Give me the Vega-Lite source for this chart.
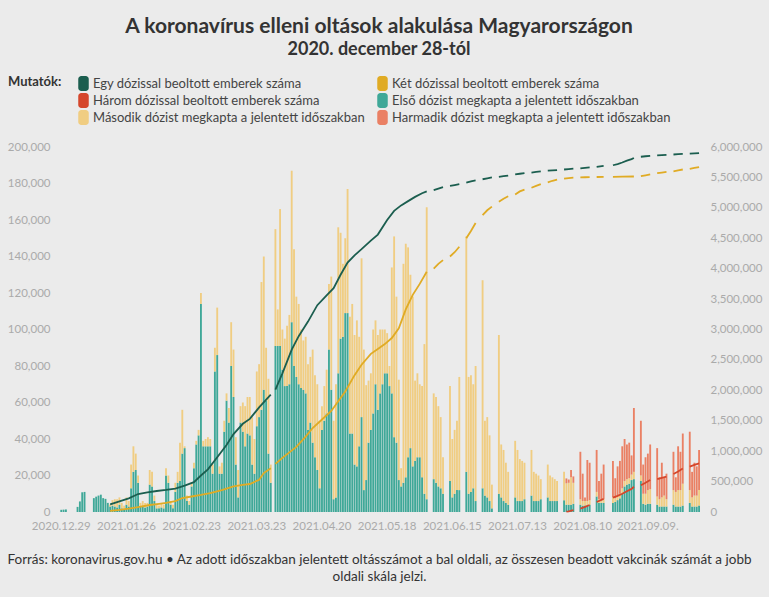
{
  "$schema": "https://vega.github.io/schema/vega-lite/v6.json",
  "width": 642,
  "height": 365,
  "autosize": {"type": "none"},
  "padding": {"left": 58, "top": 147, "right": 69, "bottom": 85},
  "background": "#ebebeb",
  "config": {
    "view": {"stroke": null},
    "font": "Lato",
    "legend": {"gridAlign": "none"}
  },
  "title": {
    "text": "A koronavírus elleni oltások alakulása Magyarországon",
    "subtitle": "2020. december 28-tól",
    "anchor": "middle",
    "font": "Lato",
    "fontSize": 21,
    "fontWeight": "bold",
    "color": "#333333",
    "subtitleFont": "Lato",
    "subtitleFontSize": 18,
    "subtitleFontWeight": "bold",
    "subtitleColor": "#333333",
    "subtitlePadding": 4,
    "offset": 17
  },
  "datasets": {
    "daily": [
      {"d":"2020.12.28","f":0,"s":0,"t":0},
      {"d":"2020.12.29","f":1200,"s":0,"t":0},
      {"d":"2020.12.30","f":1300,"s":0,"t":0},
      {"d":"2020.12.31","f":1400,"s":0,"t":0},
      {"d":"2021.01.01","f":0,"s":0,"t":0},
      {"d":"2021.01.02","f":0,"s":0,"t":0},
      {"d":"2021.01.03","f":0,"s":0,"t":0},
      {"d":"2021.01.04","f":0,"s":0,"t":0},
      {"d":"2021.01.05","f":2800,"s":0,"t":0},
      {"d":"2021.01.06","f":5800,"s":0,"t":0},
      {"d":"2021.01.07","f":10800,"s":0,"t":0},
      {"d":"2021.01.08","f":11000,"s":0,"t":0},
      {"d":"2021.01.09","f":0,"s":0,"t":0},
      {"d":"2021.01.10","f":0,"s":0,"t":0},
      {"d":"2021.01.11","f":0,"s":0,"t":0},
      {"d":"2021.01.12","f":7600,"s":0,"t":0},
      {"d":"2021.01.13","f":8400,"s":0,"t":0},
      {"d":"2021.01.14","f":9000,"s":0,"t":0},
      {"d":"2021.01.15","f":9500,"s":0,"t":0},
      {"d":"2021.01.16","f":7600,"s":0,"t":0},
      {"d":"2021.01.17","f":7200,"s":0,"t":0},
      {"d":"2021.01.18","f":5000,"s":0,"t":0},
      {"d":"2021.01.19","f":3000,"s":1000,"t":0},
      {"d":"2021.01.20","f":3500,"s":3000,"t":0},
      {"d":"2021.01.21","f":3000,"s":4000,"t":0},
      {"d":"2021.01.22","f":2500,"s":4500,"t":0},
      {"d":"2021.01.23","f":4000,"s":4000,"t":0},
      {"d":"2021.01.24","f":2000,"s":3000,"t":0},
      {"d":"2021.01.25","f":1500,"s":2000,"t":0},
      {"d":"2021.01.26","f":4000,"s":4000,"t":0},
      {"d":"2021.01.27","f":3000,"s":3000,"t":0},
      {"d":"2021.01.28","f":13000,"s":13000,"t":0},
      {"d":"2021.01.29","f":22000,"s":14000,"t":0},
      {"d":"2021.01.30","f":23000,"s":9000,"t":0},
      {"d":"2021.01.31","f":16000,"s":4000,"t":0},
      {"d":"2021.02.01","f":3000,"s":2000,"t":0},
      {"d":"2021.02.02","f":3000,"s":3000,"t":0},
      {"d":"2021.02.03","f":2500,"s":2500,"t":0},
      {"d":"2021.02.04","f":3000,"s":2000,"t":0},
      {"d":"2021.02.05","f":15000,"s":8000,"t":0},
      {"d":"2021.02.06","f":14000,"s":8000,"t":0},
      {"d":"2021.02.07","f":6000,"s":3000,"t":0},
      {"d":"2021.02.08","f":2000,"s":2000,"t":0},
      {"d":"2021.02.09","f":2000,"s":1500,"t":0},
      {"d":"2021.02.10","f":2500,"s":2000,"t":0},
      {"d":"2021.02.11","f":2000,"s":2000,"t":0},
      {"d":"2021.02.12","f":20000,"s":4000,"t":0},
      {"d":"2021.02.13","f":16000,"s":4000,"t":0},
      {"d":"2021.02.14","f":4000,"s":2000,"t":0},
      {"d":"2021.02.15","f":2000,"s":2000,"t":0},
      {"d":"2021.02.16","f":11000,"s":5000,"t":0},
      {"d":"2021.02.17","f":16000,"s":6000,"t":0},
      {"d":"2021.02.18","f":17000,"s":21000,"t":0},
      {"d":"2021.02.19","f":32000,"s":24000,"t":0},
      {"d":"2021.02.20","f":35000,"s":1000,"t":0},
      {"d":"2021.02.21","f":6000,"s":3000,"t":0},
      {"d":"2021.02.22","f":4000,"s":2000,"t":0},
      {"d":"2021.02.23","f":14000,"s":2000,"t":0},
      {"d":"2021.02.24","f":24000,"s":3000,"t":0},
      {"d":"2021.02.25","f":37000,"s":2000,"t":0},
      {"d":"2021.02.26","f":42000,"s":3000,"t":0},
      {"d":"2021.02.27","f":114000,"s":6000,"t":0},
      {"d":"2021.02.28","f":36000,"s":3000,"t":0},
      {"d":"2021.03.01","f":36000,"s":4000,"t":0},
      {"d":"2021.03.02","f":36000,"s":5000,"t":0},
      {"d":"2021.03.03","f":36000,"s":4000,"t":0},
      {"d":"2021.03.04","f":21000,"s":5000,"t":0},
      {"d":"2021.03.05","f":77000,"s":13000,"t":0},
      {"d":"2021.03.06","f":86000,"s":26000,"t":0},
      {"d":"2021.03.07","f":21000,"s":4000,"t":0},
      {"d":"2021.03.08","f":21000,"s":6000,"t":0},
      {"d":"2021.03.09","f":44000,"s":6000,"t":0},
      {"d":"2021.03.10","f":61000,"s":4000,"t":0},
      {"d":"2021.03.11","f":49000,"s":8000,"t":0},
      {"d":"2021.03.12","f":80000,"s":24000,"t":0},
      {"d":"2021.03.13","f":63000,"s":26000,"t":0},
      {"d":"2021.03.14","f":26000,"s":15000,"t":0},
      {"d":"2021.03.15","f":8000,"s":15000,"t":0},
      {"d":"2021.03.16","f":49000,"s":9000,"t":0},
      {"d":"2021.03.17","f":44000,"s":16000,"t":0},
      {"d":"2021.03.18","f":36000,"s":22000,"t":0},
      {"d":"2021.03.19","f":43000,"s":20000,"t":0},
      {"d":"2021.03.20","f":42000,"s":21000,"t":0},
      {"d":"2021.03.21","f":26000,"s":26000,"t":0},
      {"d":"2021.03.22","f":21000,"s":19000,"t":0},
      {"d":"2021.03.23","f":47000,"s":30000,"t":0},
      {"d":"2021.03.24","f":52000,"s":29000,"t":0},
      {"d":"2021.03.25","f":56000,"s":70000,"t":0},
      {"d":"2021.03.26","f":67000,"s":73000,"t":0},
      {"d":"2021.03.27","f":61000,"s":29000,"t":0},
      {"d":"2021.03.28","f":32000,"s":41000,"t":0},
      {"d":"2021.03.29","f":16000,"s":10000,"t":0},
      {"d":"2021.03.30","f":0,"s":0,"t":0},
      {"d":"2021.03.31","f":91000,"s":64000,"t":0},
      {"d":"2021.04.01","f":91000,"s":20000,"t":0},
      {"d":"2021.04.02","f":91000,"s":75000,"t":0},
      {"d":"2021.04.03","f":78000,"s":22000,"t":0},
      {"d":"2021.04.04","f":69000,"s":26000,"t":0},
      {"d":"2021.04.05","f":69000,"s":33000,"t":0},
      {"d":"2021.04.06","f":70000,"s":38000,"t":0},
      {"d":"2021.04.07","f":104000,"s":83000,"t":0},
      {"d":"2021.04.08","f":80000,"s":64000,"t":0},
      {"d":"2021.04.09","f":74000,"s":44000,"t":0},
      {"d":"2021.04.10","f":70000,"s":44000,"t":0},
      {"d":"2021.04.11","f":68000,"s":32000,"t":0},
      {"d":"2021.04.12","f":67000,"s":27000,"t":0},
      {"d":"2021.04.13","f":65000,"s":31000,"t":0},
      {"d":"2021.04.14","f":45000,"s":36000,"t":0},
      {"d":"2021.04.15","f":49000,"s":36000,"t":0},
      {"d":"2021.04.16","f":38000,"s":51000,"t":0},
      {"d":"2021.04.17","f":30000,"s":45000,"t":0},
      {"d":"2021.04.18","f":23000,"s":47000,"t":0},
      {"d":"2021.04.19","f":13000,"s":37000,"t":0},
      {"d":"2021.04.20","f":45000,"s":13000,"t":0},
      {"d":"2021.04.21","f":50000,"s":19000,"t":0},
      {"d":"2021.04.22","f":54000,"s":24000,"t":0},
      {"d":"2021.04.23","f":89000,"s":36000,"t":0},
      {"d":"2021.04.24","f":67000,"s":62000,"t":0},
      {"d":"2021.04.25","f":7000,"s":43000,"t":0},
      {"d":"2021.04.26","f":8000,"s":62000,"t":0},
      {"d":"2021.04.27","f":76000,"s":80000,"t":0},
      {"d":"2021.04.28","f":95000,"s":58000,"t":0},
      {"d":"2021.04.29","f":96000,"s":40000,"t":0},
      {"d":"2021.04.30","f":109000,"s":41000,"t":0},
      {"d":"2021.05.01","f":109000,"s":68000,"t":0},
      {"d":"2021.05.02","f":43000,"s":64000,"t":0},
      {"d":"2021.05.03","f":43000,"s":71000,"t":0},
      {"d":"2021.05.04","f":26000,"s":71000,"t":0},
      {"d":"2021.05.05","f":25000,"s":80000,"t":0},
      {"d":"2021.05.06","f":36000,"s":60000,"t":0},
      {"d":"2021.05.07","f":52000,"s":87000,"t":0},
      {"d":"2021.05.08","f":12000,"s":77000,"t":0},
      {"d":"2021.05.09","f":17500,"s":52000,"t":0},
      {"d":"2021.05.10","f":38000,"s":34000,"t":0},
      {"d":"2021.05.11","f":45000,"s":31000,"t":0},
      {"d":"2021.05.12","f":54000,"s":46000,"t":0},
      {"d":"2021.05.13","f":70000,"s":35000,"t":0},
      {"d":"2021.05.14","f":56000,"s":41000,"t":0},
      {"d":"2021.05.15","f":65000,"s":35000,"t":0},
      {"d":"2021.05.16","f":70000,"s":30000,"t":0},
      {"d":"2021.05.17","f":76000,"s":24000,"t":0},
      {"d":"2021.05.18","f":76000,"s":22000,"t":0},
      {"d":"2021.05.19","f":69000,"s":11000,"t":0},
      {"d":"2021.05.20","f":65000,"s":69000,"t":0},
      {"d":"2021.05.21","f":41000,"s":110000,"t":0},
      {"d":"2021.05.22","f":38000,"s":80000,"t":0},
      {"d":"2021.05.23","f":17500,"s":55000,"t":0},
      {"d":"2021.05.24","f":14000,"s":10000,"t":0},
      {"d":"2021.05.25","f":16000,"s":120000,"t":0},
      {"d":"2021.05.26","f":19000,"s":128000,"t":0},
      {"d":"2021.05.27","f":30000,"s":115000,"t":0},
      {"d":"2021.05.28","f":35000,"s":95000,"t":0},
      {"d":"2021.05.29","f":25000,"s":93000,"t":0},
      {"d":"2021.05.30","f":28000,"s":44000,"t":0},
      {"d":"2021.05.31","f":30000,"s":46000,"t":0},
      {"d":"2021.06.01","f":30000,"s":40000,"t":0},
      {"d":"2021.06.02","f":19000,"s":50000,"t":0},
      {"d":"2021.06.03","f":10000,"s":82000,"t":0},
      {"d":"2021.06.04","f":7000,"s":160000,"t":0},
      {"d":"2021.06.05","f":0,"s":0,"t":0},
      {"d":"2021.06.06","f":0,"s":0,"t":0},
      {"d":"2021.06.07","f":18000,"s":47000,"t":0},
      {"d":"2021.06.08","f":16000,"s":47000,"t":0},
      {"d":"2021.06.09","f":14000,"s":44000,"t":0},
      {"d":"2021.06.10","f":13000,"s":39000,"t":0},
      {"d":"2021.06.11","f":10000,"s":20000,"t":0},
      {"d":"2021.06.12","f":0,"s":0,"t":0},
      {"d":"2021.06.13","f":0,"s":0,"t":0},
      {"d":"2021.06.14","f":17000,"s":52000,"t":0},
      {"d":"2021.06.15","f":8000,"s":32000,"t":0},
      {"d":"2021.06.16","f":10000,"s":35000,"t":0},
      {"d":"2021.06.17","f":12000,"s":38000,"t":0},
      {"d":"2021.06.18","f":12000,"s":62000,"t":0},
      {"d":"2021.06.19","f":0,"s":0,"t":0},
      {"d":"2021.06.20","f":0,"s":0,"t":0},
      {"d":"2021.06.21","f":22000,"s":129000,"t":0},
      {"d":"2021.06.22","f":10000,"s":64000,"t":0},
      {"d":"2021.06.23","f":11000,"s":64000,"t":0},
      {"d":"2021.06.24","f":13000,"s":57000,"t":0},
      {"d":"2021.06.25","f":6000,"s":74000,"t":0},
      {"d":"2021.06.26","f":0,"s":0,"t":0},
      {"d":"2021.06.27","f":0,"s":0,"t":0},
      {"d":"2021.06.28","f":13000,"s":114000,"t":0},
      {"d":"2021.06.29","f":9000,"s":41000,"t":0},
      {"d":"2021.06.30","f":8000,"s":44000,"t":0},
      {"d":"2021.07.01","f":6000,"s":36000,"t":0},
      {"d":"2021.07.02","f":2000,"s":13000,"t":0},
      {"d":"2021.07.03","f":0,"s":0,"t":0},
      {"d":"2021.07.04","f":0,"s":0,"t":0},
      {"d":"2021.07.05","f":10000,"s":87000,"t":0},
      {"d":"2021.07.06","f":8000,"s":29000,"t":0},
      {"d":"2021.07.07","f":6000,"s":28000,"t":0},
      {"d":"2021.07.08","f":5000,"s":22000,"t":0},
      {"d":"2021.07.09","f":4000,"s":18000,"t":0},
      {"d":"2021.07.10","f":0,"s":0,"t":0},
      {"d":"2021.07.11","f":0,"s":0,"t":0},
      {"d":"2021.07.12","f":8000,"s":31000,"t":0},
      {"d":"2021.07.13","f":6000,"s":28000,"t":0},
      {"d":"2021.07.14","f":6000,"s":23000,"t":0},
      {"d":"2021.07.15","f":6000,"s":22000,"t":0},
      {"d":"2021.07.16","f":7000,"s":20000,"t":0},
      {"d":"2021.07.17","f":0,"s":0,"t":0},
      {"d":"2021.07.18","f":0,"s":0,"t":0},
      {"d":"2021.07.19","f":9000,"s":25000,"t":0},
      {"d":"2021.07.20","f":6000,"s":16000,"t":0},
      {"d":"2021.07.21","f":6000,"s":15000,"t":0},
      {"d":"2021.07.22","f":6000,"s":14000,"t":0},
      {"d":"2021.07.23","f":7000,"s":11000,"t":0},
      {"d":"2021.07.24","f":0,"s":0,"t":0},
      {"d":"2021.07.25","f":0,"s":0,"t":0},
      {"d":"2021.07.26","f":8000,"s":18000,"t":0},
      {"d":"2021.07.27","f":6000,"s":14000,"t":0},
      {"d":"2021.07.28","f":6000,"s":13000,"t":0},
      {"d":"2021.07.29","f":6000,"s":12000,"t":0},
      {"d":"2021.07.30","f":6000,"s":11000,"t":0},
      {"d":"2021.07.31","f":0,"s":0,"t":0},
      {"d":"2021.08.01","f":0,"s":0,"t":0},
      {"d":"2021.08.02","f":6500,"s":15500,"t":0},
      {"d":"2021.08.03","f":4000,"s":11700,"t":2700},
      {"d":"2021.08.04","f":4000,"s":12000,"t":1800},
      {"d":"2021.08.05","f":4000,"s":15000,"t":4000},
      {"d":"2021.08.06","f":4500,"s":11500,"t":3500},
      {"d":"2021.08.07","f":0,"s":0,"t":0},
      {"d":"2021.08.08","f":0,"s":0,"t":0},
      {"d":"2021.08.09","f":4000,"s":3000,"t":26000},
      {"d":"2021.08.10","f":3500,"s":2500,"t":15000},
      {"d":"2021.08.11","f":3500,"s":2500,"t":2000},
      {"d":"2021.08.12","f":3500,"s":2500,"t":22500},
      {"d":"2021.08.13","f":4000,"s":2500,"t":20500},
      {"d":"2021.08.14","f":0,"s":0,"t":0},
      {"d":"2021.08.15","f":0,"s":0,"t":0},
      {"d":"2021.08.16","f":8500,"s":2500,"t":23000},
      {"d":"2021.08.17","f":5000,"s":2000,"t":10000},
      {"d":"2021.08.18","f":5000,"s":2000,"t":14000},
      {"d":"2021.08.19","f":5000,"s":2000,"t":19000},
      {"d":"2021.08.20","f":0,"s":0,"t":0},
      {"d":"2021.08.21","f":0,"s":0,"t":0},
      {"d":"2021.08.22","f":0,"s":0,"t":0},
      {"d":"2021.08.23","f":5000,"s":3000,"t":20000},
      {"d":"2021.08.24","f":5500,"s":2000,"t":11000},
      {"d":"2021.08.25","f":6500,"s":2500,"t":16000},
      {"d":"2021.08.26","f":7500,"s":2500,"t":18000},
      {"d":"2021.08.27","f":10000,"s":3000,"t":23000},
      {"d":"2021.08.30","f":14000,"s":3000,"t":23000},
      {"d":"2021.08.31","f":15000,"s":3000,"t":19000},
      {"d":"2021.09.01","f":15500,"s":3000,"t":19500},
      {"d":"2021.09.02","f":17500,"s":3000,"t":10500},
      {"d":"2021.09.03","f":18000,"s":4000,"t":35000},
      {"d":"2021.09.04","f":0,"s":0,"t":0},
      {"d":"2021.09.05","f":0,"s":0,"t":0},
      {"d":"2021.09.06","f":17000,"s":3000,"t":30000},
      {"d":"2021.09.07","f":4500,"s":5500,"t":16000},
      {"d":"2021.09.08","f":4000,"s":6000,"t":20000},
      {"d":"2021.09.09","f":4500,"s":7500,"t":20000},
      {"d":"2021.09.10","f":4500,"s":8000,"t":24500},
      {"d":"2021.09.11","f":0,"s":0,"t":0},
      {"d":"2021.09.12","f":0,"s":0,"t":0},
      {"d":"2021.09.13","f":4000,"s":4500,"t":26500},
      {"d":"2021.09.14","f":3000,"s":4000,"t":12000},
      {"d":"2021.09.15","f":3000,"s":5000,"t":19000},
      {"d":"2021.09.16","f":3000,"s":6000,"t":10000},
      {"d":"2021.09.17","f":3000,"s":4000,"t":14000},
      {"d":"2021.09.18","f":0,"s":0,"t":0},
      {"d":"2021.09.19","f":0,"s":0,"t":0},
      {"d":"2021.09.20","f":4000,"s":8000,"t":21000},
      {"d":"2021.09.21","f":3000,"s":8000,"t":8000},
      {"d":"2021.09.22","f":3000,"s":9000,"t":24000},
      {"d":"2021.09.23","f":3000,"s":9000,"t":21000},
      {"d":"2021.09.24","f":3500,"s":12000,"t":27500},
      {"d":"2021.09.25","f":0,"s":0,"t":0},
      {"d":"2021.09.26","f":0,"s":0,"t":0},
      {"d":"2021.09.27","f":5000,"s":7000,"t":32000},
      {"d":"2021.09.28","f":3000,"s":5000,"t":14000},
      {"d":"2021.09.29","f":3000,"s":6000,"t":18000},
      {"d":"2021.09.30","f":3000,"s":6000,"t":16000},
      {"d":"2021.10.01","f":3500,"s":8500,"t":22000}
    ],
    "totals": [
      {"k":"A","d":"2021.01.19","v":127000},
      {"k":"A","d":"2021.01.23","v":175000},
      {"k":"A","d":"2021.01.27","v":225000},
      {"k":"A","d":"2021.01.31","v":295000},
      {"k":"A","d":"2021.02.04","v":322000},
      {"k":"A","d":"2021.02.08","v":345000},
      {"k":"A","d":"2021.02.12","v":362000},
      {"k":"A","d":"2021.02.16","v":385000},
      {"k":"A","d":"2021.02.20","v":435000},
      {"k":"A","d":"2021.02.24","v":490000},
      {"k":"A","d":"2021.02.27","v":600000},
      {"k":"A","d":"2021.03.02","v":700000},
      {"k":"A","d":"2021.03.06","v":900000},
      {"k":"A","d":"2021.03.10","v":1100000},
      {"k":"A","d":"2021.03.13","v":1280000},
      {"k":"A","d":"2021.03.17","v":1450000},
      {"k":"A","d":"2021.03.20","v":1530000},
      {"k":"A","d":"2021.03.24","v":1720000},
      {"k":"A","d":"2021.03.29","v":1930000},
      {"k":"A","d":"2021.03.30","v":null},
      {"k":"A","d":"2021.03.31","v":2010000},
      {"k":"A","d":"2021.04.03","v":2280000},
      {"k":"A","d":"2021.04.07","v":2670000},
      {"k":"A","d":"2021.04.10","v":2890000},
      {"k":"A","d":"2021.04.14","v":3130000},
      {"k":"A","d":"2021.04.18","v":3400000},
      {"k":"A","d":"2021.04.22","v":3560000},
      {"k":"A","d":"2021.04.25","v":3680000},
      {"k":"A","d":"2021.04.28","v":3900000},
      {"k":"A","d":"2021.05.01","v":4100000},
      {"k":"A","d":"2021.05.04","v":4220000},
      {"k":"A","d":"2021.05.07","v":4320000},
      {"k":"A","d":"2021.05.11","v":4460000},
      {"k":"A","d":"2021.05.14","v":4560000},
      {"k":"A","d":"2021.05.18","v":4800000},
      {"k":"A","d":"2021.05.21","v":4950000},
      {"k":"A","d":"2021.05.24","v":5040000},
      {"k":"A","d":"2021.05.27","v":5110000},
      {"k":"A","d":"2021.05.30","v":5180000},
      {"k":"A","d":"2021.06.02","v":5240000},
      {"k":"A","d":"2021.06.04","v":5270000},
      {"k":"A","d":"2021.06.05","v":null},
      {"k":"A","d":"2021.06.07","v":5290000},
      {"k":"A","d":"2021.06.09","v":5315000},
      {"k":"A","d":"2021.06.11","v":5340000},
      {"k":"A","d":"2021.06.12","v":null},
      {"k":"A","d":"2021.06.14","v":5360000},
      {"k":"A","d":"2021.06.16","v":5375000},
      {"k":"A","d":"2021.06.18","v":5390000},
      {"k":"A","d":"2021.06.19","v":null},
      {"k":"A","d":"2021.06.21","v":5415000},
      {"k":"A","d":"2021.06.23","v":5435000},
      {"k":"A","d":"2021.06.25","v":5450000},
      {"k":"A","d":"2021.06.26","v":null},
      {"k":"A","d":"2021.06.28","v":5470000},
      {"k":"A","d":"2021.06.30","v":5485000},
      {"k":"A","d":"2021.07.02","v":5500000},
      {"k":"A","d":"2021.07.03","v":null},
      {"k":"A","d":"2021.07.05","v":5510000},
      {"k":"A","d":"2021.07.07","v":5520000},
      {"k":"A","d":"2021.07.09","v":5530000},
      {"k":"A","d":"2021.07.10","v":null},
      {"k":"A","d":"2021.07.12","v":5550000},
      {"k":"A","d":"2021.07.14","v":5560000},
      {"k":"A","d":"2021.07.16","v":5570000},
      {"k":"A","d":"2021.07.17","v":null},
      {"k":"A","d":"2021.07.19","v":5580000},
      {"k":"A","d":"2021.07.21","v":5590000},
      {"k":"A","d":"2021.07.23","v":5600000},
      {"k":"A","d":"2021.07.24","v":null},
      {"k":"A","d":"2021.07.26","v":5610000},
      {"k":"A","d":"2021.07.28","v":5615000},
      {"k":"A","d":"2021.07.30","v":5620000},
      {"k":"A","d":"2021.07.31","v":null},
      {"k":"A","d":"2021.08.02","v":5630000},
      {"k":"A","d":"2021.08.04","v":5638000},
      {"k":"A","d":"2021.08.06","v":5645000},
      {"k":"A","d":"2021.08.07","v":null},
      {"k":"A","d":"2021.08.09","v":5650000},
      {"k":"A","d":"2021.08.11","v":5658000},
      {"k":"A","d":"2021.08.13","v":5665000},
      {"k":"A","d":"2021.08.14","v":null},
      {"k":"A","d":"2021.08.16","v":5675000},
      {"k":"A","d":"2021.08.19","v":5690000},
      {"k":"A","d":"2021.08.21","v":null},
      {"k":"A","d":"2021.08.23","v":5700000},
      {"k":"A","d":"2021.08.25","v":5720000},
      {"k":"A","d":"2021.08.27","v":5745000},
      {"k":"A","d":"2021.08.31","v":5775000},
      {"k":"A","d":"2021.09.02","v":5800000},
      {"k":"A","d":"2021.09.03","v":5820000},
      {"k":"A","d":"2021.09.04","v":null},
      {"k":"A","d":"2021.09.06","v":5840000},
      {"k":"A","d":"2021.09.08","v":5848000},
      {"k":"A","d":"2021.09.10","v":5855000},
      {"k":"A","d":"2021.09.11","v":null},
      {"k":"A","d":"2021.09.13","v":5862000},
      {"k":"A","d":"2021.09.15","v":5867000},
      {"k":"A","d":"2021.09.17","v":5872000},
      {"k":"A","d":"2021.09.18","v":null},
      {"k":"A","d":"2021.09.20","v":5877000},
      {"k":"A","d":"2021.09.22","v":5882000},
      {"k":"A","d":"2021.09.24","v":5886000},
      {"k":"A","d":"2021.09.25","v":null},
      {"k":"A","d":"2021.09.27","v":5890000},
      {"k":"A","d":"2021.09.29","v":5895000},
      {"k":"A","d":"2021.10.01","v":5900000},

      {"k":"B","d":"2021.01.19","v":20000},
      {"k":"B","d":"2021.01.23","v":35000},
      {"k":"B","d":"2021.01.27","v":55000},
      {"k":"B","d":"2021.01.31","v":80000},
      {"k":"B","d":"2021.02.05","v":115000},
      {"k":"B","d":"2021.02.09","v":135000},
      {"k":"B","d":"2021.02.12","v":150000},
      {"k":"B","d":"2021.02.16","v":180000},
      {"k":"B","d":"2021.02.19","v":230000},
      {"k":"B","d":"2021.02.23","v":255000},
      {"k":"B","d":"2021.02.27","v":280000},
      {"k":"B","d":"2021.03.03","v":310000},
      {"k":"B","d":"2021.03.08","v":360000},
      {"k":"B","d":"2021.03.13","v":420000},
      {"k":"B","d":"2021.03.17","v":445000},
      {"k":"B","d":"2021.03.20","v":460000},
      {"k":"B","d":"2021.03.24","v":530000},
      {"k":"B","d":"2021.03.26","v":640000},
      {"k":"B","d":"2021.03.29","v":720000},
      {"k":"B","d":"2021.03.30","v":null},
      {"k":"B","d":"2021.03.31","v":790000},
      {"k":"B","d":"2021.04.03","v":890000},
      {"k":"B","d":"2021.04.06","v":980000},
      {"k":"B","d":"2021.04.09","v":1070000},
      {"k":"B","d":"2021.04.13","v":1240000},
      {"k":"B","d":"2021.04.16","v":1380000},
      {"k":"B","d":"2021.04.20","v":1520000},
      {"k":"B","d":"2021.04.24","v":1660000},
      {"k":"B","d":"2021.04.27","v":1820000},
      {"k":"B","d":"2021.04.30","v":1980000},
      {"k":"B","d":"2021.05.04","v":2250000},
      {"k":"B","d":"2021.05.07","v":2420000},
      {"k":"B","d":"2021.05.11","v":2600000},
      {"k":"B","d":"2021.05.14","v":2680000},
      {"k":"B","d":"2021.05.17","v":2760000},
      {"k":"B","d":"2021.05.20","v":2860000},
      {"k":"B","d":"2021.05.23","v":3020000},
      {"k":"B","d":"2021.05.26","v":3330000},
      {"k":"B","d":"2021.05.29","v":3570000},
      {"k":"B","d":"2021.06.01","v":3750000},
      {"k":"B","d":"2021.06.04","v":3950000},
      {"k":"B","d":"2021.06.05","v":null},
      {"k":"B","d":"2021.06.07","v":4000000},
      {"k":"B","d":"2021.06.09","v":4080000},
      {"k":"B","d":"2021.06.11","v":4140000},
      {"k":"B","d":"2021.06.12","v":null},
      {"k":"B","d":"2021.06.14","v":4200000},
      {"k":"B","d":"2021.06.16","v":4270000},
      {"k":"B","d":"2021.06.18","v":4360000},
      {"k":"B","d":"2021.06.19","v":null},
      {"k":"B","d":"2021.06.21","v":4500000},
      {"k":"B","d":"2021.06.23","v":4620000},
      {"k":"B","d":"2021.06.25","v":4750000},
      {"k":"B","d":"2021.06.26","v":null},
      {"k":"B","d":"2021.06.28","v":4880000},
      {"k":"B","d":"2021.06.30","v":4960000},
      {"k":"B","d":"2021.07.02","v":5020000},
      {"k":"B","d":"2021.07.03","v":null},
      {"k":"B","d":"2021.07.05","v":5100000},
      {"k":"B","d":"2021.07.07","v":5150000},
      {"k":"B","d":"2021.07.09","v":5190000},
      {"k":"B","d":"2021.07.10","v":null},
      {"k":"B","d":"2021.07.12","v":5220000},
      {"k":"B","d":"2021.07.14","v":5270000},
      {"k":"B","d":"2021.07.16","v":5300000},
      {"k":"B","d":"2021.07.17","v":null},
      {"k":"B","d":"2021.07.19","v":5330000},
      {"k":"B","d":"2021.07.21","v":5360000},
      {"k":"B","d":"2021.07.23","v":5390000},
      {"k":"B","d":"2021.07.24","v":null},
      {"k":"B","d":"2021.07.26","v":5420000},
      {"k":"B","d":"2021.07.28","v":5445000},
      {"k":"B","d":"2021.07.30","v":5465000},
      {"k":"B","d":"2021.07.31","v":null},
      {"k":"B","d":"2021.08.02","v":5480000},
      {"k":"B","d":"2021.08.04","v":5490000},
      {"k":"B","d":"2021.08.06","v":5495000},
      {"k":"B","d":"2021.08.07","v":null},
      {"k":"B","d":"2021.08.09","v":5500000},
      {"k":"B","d":"2021.08.11","v":5503000},
      {"k":"B","d":"2021.08.13","v":5505000},
      {"k":"B","d":"2021.08.14","v":null},
      {"k":"B","d":"2021.08.16","v":5507000},
      {"k":"B","d":"2021.08.19","v":5510000},
      {"k":"B","d":"2021.08.21","v":null},
      {"k":"B","d":"2021.08.23","v":5510000},
      {"k":"B","d":"2021.08.27","v":5512000},
      {"k":"B","d":"2021.09.03","v":5515000},
      {"k":"B","d":"2021.09.04","v":null},
      {"k":"B","d":"2021.09.06","v":5520000},
      {"k":"B","d":"2021.09.08","v":5535000},
      {"k":"B","d":"2021.09.10","v":5550000},
      {"k":"B","d":"2021.09.11","v":null},
      {"k":"B","d":"2021.09.13","v":5570000},
      {"k":"B","d":"2021.09.15","v":5580000},
      {"k":"B","d":"2021.09.17","v":5590000},
      {"k":"B","d":"2021.09.18","v":null},
      {"k":"B","d":"2021.09.20","v":5600000},
      {"k":"B","d":"2021.09.22","v":5615000},
      {"k":"B","d":"2021.09.24","v":5630000},
      {"k":"B","d":"2021.09.25","v":null},
      {"k":"B","d":"2021.09.27","v":5640000},
      {"k":"B","d":"2021.09.29","v":5655000},
      {"k":"B","d":"2021.10.01","v":5670000},

      {"k":"C","d":"2021.08.03","v":5000},
      {"k":"C","d":"2021.08.04","v":12000},
      {"k":"C","d":"2021.08.06","v":30000},
      {"k":"C","d":"2021.08.07","v":null},
      {"k":"C","d":"2021.08.09","v":55000},
      {"k":"C","d":"2021.08.11","v":85000},
      {"k":"C","d":"2021.08.13","v":115000},
      {"k":"C","d":"2021.08.14","v":null},
      {"k":"C","d":"2021.08.16","v":165000},
      {"k":"C","d":"2021.08.19","v":215000},
      {"k":"C","d":"2021.08.21","v":null},
      {"k":"C","d":"2021.08.23","v":235000},
      {"k":"C","d":"2021.08.25","v":265000},
      {"k":"C","d":"2021.08.27","v":300000},
      {"k":"C","d":"2021.08.31","v":340000},
      {"k":"C","d":"2021.09.02","v":380000},
      {"k":"C","d":"2021.09.03","v":415000},
      {"k":"C","d":"2021.09.04","v":null},
      {"k":"C","d":"2021.09.06","v":440000},
      {"k":"C","d":"2021.09.08","v":480000},
      {"k":"C","d":"2021.09.10","v":525000},
      {"k":"C","d":"2021.09.11","v":null},
      {"k":"C","d":"2021.09.13","v":540000},
      {"k":"C","d":"2021.09.15","v":560000},
      {"k":"C","d":"2021.09.17","v":580000},
      {"k":"C","d":"2021.09.18","v":null},
      {"k":"C","d":"2021.09.20","v":625000},
      {"k":"C","d":"2021.09.22","v":665000},
      {"k":"C","d":"2021.09.24","v":715000},
      {"k":"C","d":"2021.09.25","v":null},
      {"k":"C","d":"2021.09.27","v":745000},
      {"k":"C","d":"2021.09.29","v":775000},
      {"k":"C","d":"2021.10.01","v":800000}
    ]
  },
  "layer": [
    {
      "data": {"name": "daily"},
      "transform": [{"fold": ["f", "s", "t"], "as": ["key", "val"]}],
      "mark": {"type": "bar"},
      "encoding": {
        "x": {
          "field": "d",
          "type": "ordinal",
          "scale": {"paddingInner": 0.2, "paddingOuter": 0},
          "axis": {
            "values": ["2020.12.29", "2021.01.26", "2021.02.23", "2021.03.23", "2021.04.20", "2021.05.18", "2021.06.15", "2021.07.13", "2021.08.10", "2021.09.09"],
            "labelExpr": "datum.value == '2021.09.09' ? '2021.09.09.' : datum.value",
            "labelAngle": 0,
            "domain": false,
            "ticks": false,
            "labelColor": "#aaaaaa",
            "labelFont": "Lato",
            "labelFontSize": 11.5,
            "labelPadding": 8,
            "title": ["Forrás: koronavirus.gov.hu • Az adott időszakban jelentett oltásszámot a bal oldali, az összesen beadott vakcinák számát a jobb", "oldali skála jelzi."],
            "titleFont": "Lato",
            "titleFontSize": 13.5,
            "titleFontWeight": "normal",
            "titleColor": "#333333",
            "titlePadding": 21,
            "titleLineHeight": 17
          }
        },
        "y": {
          "field": "val",
          "type": "quantitative",
          "stack": "zero",
          "scale": {"domain": [0, 200000], "nice": false},
          "axis": {
            "orient": "left",
            "values": [0, 20000, 40000, 60000, 80000, 100000, 120000, 140000, 160000, 180000, 200000],
            "format": ",d",
            "domain": false,
            "ticks": false,
            "grid": false,
            "title": null,
            "labelColor": "#aaaaaa",
            "labelFont": "Lato",
            "labelFontSize": 11.5,
            "labelPadding": 8
          }
        },
        "order": {"field": "key", "sort": "ascending"},
        "color": {
          "field": "key",
          "type": "nominal",
          "scale": {
            "domain": ["A", "B", "C", "f", "s", "t"],
            "range": ["#1b5e4f", "#e0ab24", "#d5462b", "#3fa898", "#f0cd82", "#ea8064"]
          },
          "legend": {
            "title": "Mutatók:",
            "orient": "none",
            "legendX": -50,
            "legendY": -71,
            "direction": "horizontal",
            "columns": 2,
            "gridAlign": "none",
            "titleOrient": "left",
            "titleAnchor": "start",
            "titleAngle": 0,
            "titleBaseline": "top",
            "titlePadding": 14,
            "titleFont": "Lato",
            "titleFontSize": 13,
            "titleFontWeight": "bold",
            "titleColor": "#333333",
            "labelFont": "Lato",
            "labelFontSize": 13,
            "labelColor": "#444444",
            "labelLimit": 400,
            "labelOffset": 2,
            "columnPadding": 10,
            "rowPadding": 2,
            "symbolType": "M-0.3,-1H0.3A0.4,0.4,0,0,1,0.7,-0.6V0.6A0.4,0.4,0,0,1,0.3,1H-0.3A0.4,0.4,0,0,1,-0.7,0.6V-0.6A0.4,0.4,0,0,1,-0.3,-1Z",
            "symbolSize": 225,
            "symbolStrokeWidth": 0,
            "symbolOpacity": 1,
            "labelExpr": "datum.label == 'A' ? 'Egy dózissal beoltott emberek száma' : datum.label == 'B' ? 'Két dózissal beoltott emberek száma' : datum.label == 'C' ? 'Három dózissal beoltott emberek száma' : datum.label == 'f' ? 'Első dózist megkapta a jelentett időszakban' : datum.label == 's' ? 'Második dózist megkapta a jelentett időszakban' : 'Harmadik dózist megkapta a jelentett időszakban'",
            "encode": {
              "symbols": {
                "update": {
                  "fill": {"scale": "color", "field": "value"},
                  "stroke": {"value": "transparent"},
                  "opacity": {"value": 1}
                }
              }
            }
          }
        }
      }
    },
    {
      "data": {"name": "totals"},
      "mark": {"type": "line", "strokeWidth": 1.8},
      "encoding": {
        "x": {"field": "d", "type": "ordinal"},
        "y": {
          "field": "v",
          "type": "quantitative",
          "scale": {"domain": [0, 6000000], "nice": false},
          "axis": {
            "orient": "right",
            "values": [0, 500000, 1000000, 1500000, 2000000, 2500000, 3000000, 3500000, 4000000, 4500000, 5000000, 5500000, 6000000],
            "format": ",d",
            "domain": false,
            "ticks": false,
            "grid": false,
            "title": null,
            "labelColor": "#aaaaaa",
            "labelFont": "Lato",
            "labelFontSize": 11.5,
            "labelPadding": 10
          }
        },
        "color": {"field": "k", "type": "nominal"}
      }
    }
  ],
  "resolve": {"scale": {"y": "independent"}}
}
